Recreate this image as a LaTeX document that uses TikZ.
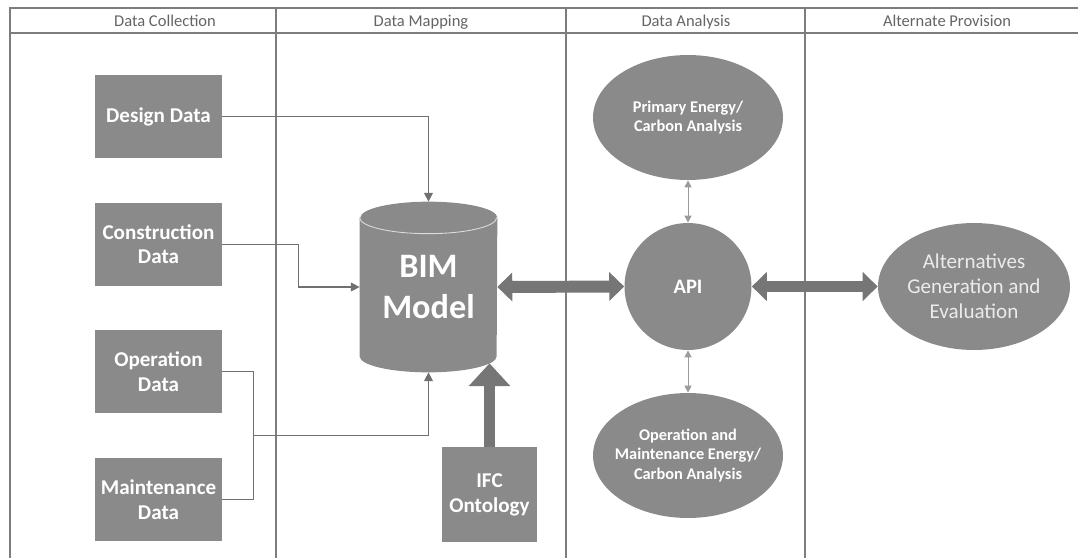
\documentclass[tikz,border=0pt]{standalone}
\usepackage{fontspec}
\setmainfont{Carlito}
\usetikzlibrary{shapes.geometric, arrows.meta, positioning, calc, backgrounds}
\definecolor{blk}{RGB}{138,138,138}
\definecolor{fatgray}{RGB}{118,118,118}
\definecolor{linegray}{RGB}{112,112,112}
\definecolor{framegray}{RGB}{125,125,125}
\definecolor{headtxt}{RGB}{100,100,100}

\begin{document}
\begin{tikzpicture}[
      x=0.02cm, y=-0.02cm,
      node distance=0.88cm,
      datablk/.style={rectangle, fill=blk, minimum width=2.54cm, minimum height=1.66cm,
                      inner sep=2pt, text=white, align=center,
                      font=\fontsize{12}{14.2}\selectfont\bfseries},
      oval/.style={ellipse, fill=blk, minimum width=3.8cm, minimum height=2.5cm, inner sep=0pt},
      ovaltxt/.style={text=white, align=center, font=\fontsize{9.3}{11}\selectfont\bfseries},
      head/.style={text=headtxt, anchor=base, font=\fontsize{9.4}{11}\selectfont},
      lane/.style={draw=framegray, line width=1pt},
      link/.style={-{Triangle[width=5pt,length=5pt]}, draw=linegray, line width=0.6pt},
      duo/.style={{Triangle[width=4pt,length=4pt]}-{Triangle[width=4pt,length=4pt]},
                  draw=linegray!70, line width=0.5pt},
      fat/.style={{Triangle[width=16pt,length=8.5pt]}-{Triangle[width=16pt,length=8.5pt]},
                  draw=fatgray, line width=6.8pt},
      fatup/.style={-{Triangle[width=23pt,length=13pt]}, draw=fatgray, line width=6.2pt}
    ]
    \useasboundingbox (0,0) rectangle (1078,558);

    % swimlanes
    \draw[lane] (10,558) -- (10,8) -- (1078,8);
    \draw[lane] (10,33) -- (1078,33);
    \foreach \lx in {276,566,805}
      \draw[lane] (\lx,8) -- (\lx,558);
    \node[head] (h1) at (165,26) {Data Collection};
    \node[head] (h2) at (421,26) {Data Mapping};
    \node[head] (h3) at (686,26) {Data Analysis};
    \node[head] (h4) at (947,26) {Alternate Provision};

    % data collection
    \node[datablk] (design) at (158.5,116.5) {Design Data};
    \node[datablk, below=of design] (constr) {Construction\\Data};
    \node[datablk, below=of constr] (oper) {Operation\\Data};
    \node[datablk, below=of oper] (maint) {Maintenance\\Data};

    % data mapping
    \node[text=white, align=center, inner sep=0pt,
          minimum width=2.74cm, minimum height=3.4cm,
          font=\fontsize{19.5}{23.8}\selectfont\bfseries] (bim) at (428.5,287) {BIM\\Model};
    \begin{scope}[on background layer]
      \fill[blk] ([yshift=-0.32cm]bim.north west) -- ([yshift=0.32cm]bim.south west)
        arc[start angle=180, end angle=360, x radius=1.37cm, y radius=0.32cm]
        -- ([yshift=-0.32cm]bim.north east)
        arc[start angle=0, end angle=180, x radius=1.37cm, y radius=0.32cm] -- cycle;
      \draw[white!70!blk, line width=0.5pt] ([yshift=-0.32cm]bim.north west)
        arc[start angle=180, end angle=360, x radius=1.37cm, y radius=0.32cm];
    \end{scope}
    \node[datablk, minimum width=1.9cm, minimum height=1.9cm] (ifc) at (489.5,494.5) {IFC\\Ontology};

    % data analysis
    \node[circle, fill=blk, minimum size=2.54cm, inner sep=0pt, text=white,
          font=\fontsize{11.7}{14}\selectfont\bfseries] (api) at (688,286.5) {API};
    \node[oval] (primary) at (688,117.5) {};
    \node[ovaltxt] (primary-t) at (primary) {Primary Energy/\\Carbon Analysis};
    \node[oval] (opmaint) at (688,455.5) {};
    \node[ovaltxt] (opmaint-t) at (opmaint) {Operation and\\Maintenance Energy/\\Carbon Analysis};

    % alternate provision
    \node[oval, minimum width=3.84cm, minimum height=2.54cm, text=white!92!black, align=center,
          font=\fontsize{12}{14.2}\selectfont] (alt) at (974,286.5) {Alternatives\\Generation and\\Evaluation};

    % connectors
    \draw[link] (design.east) -| (bim.north);
    \draw[link] (constr.east) -- ++(76,0) |- (bim.west);
    \draw[draw=linegray, line width=0.6pt] (oper.east) -- ++(31,0) |- (maint.east);
    \coordinate (join) at ($(oper.east)!0.5!(maint.east)+(31,0)$);
    \draw[link] (join) -| (bim.south);
    \draw[fatup] (ifc.north) -- ($(ifc.north |- bim.south)+(0,-9)$);
    \draw[fat] (bim.east) -- (api.west);
    \draw[fat] (api.east) -- (alt.west);
    \draw[duo] (primary.south) -- (api.north);
    \draw[duo] (api.south) -- (opmaint.north);
  \end{tikzpicture}
\end{document}
